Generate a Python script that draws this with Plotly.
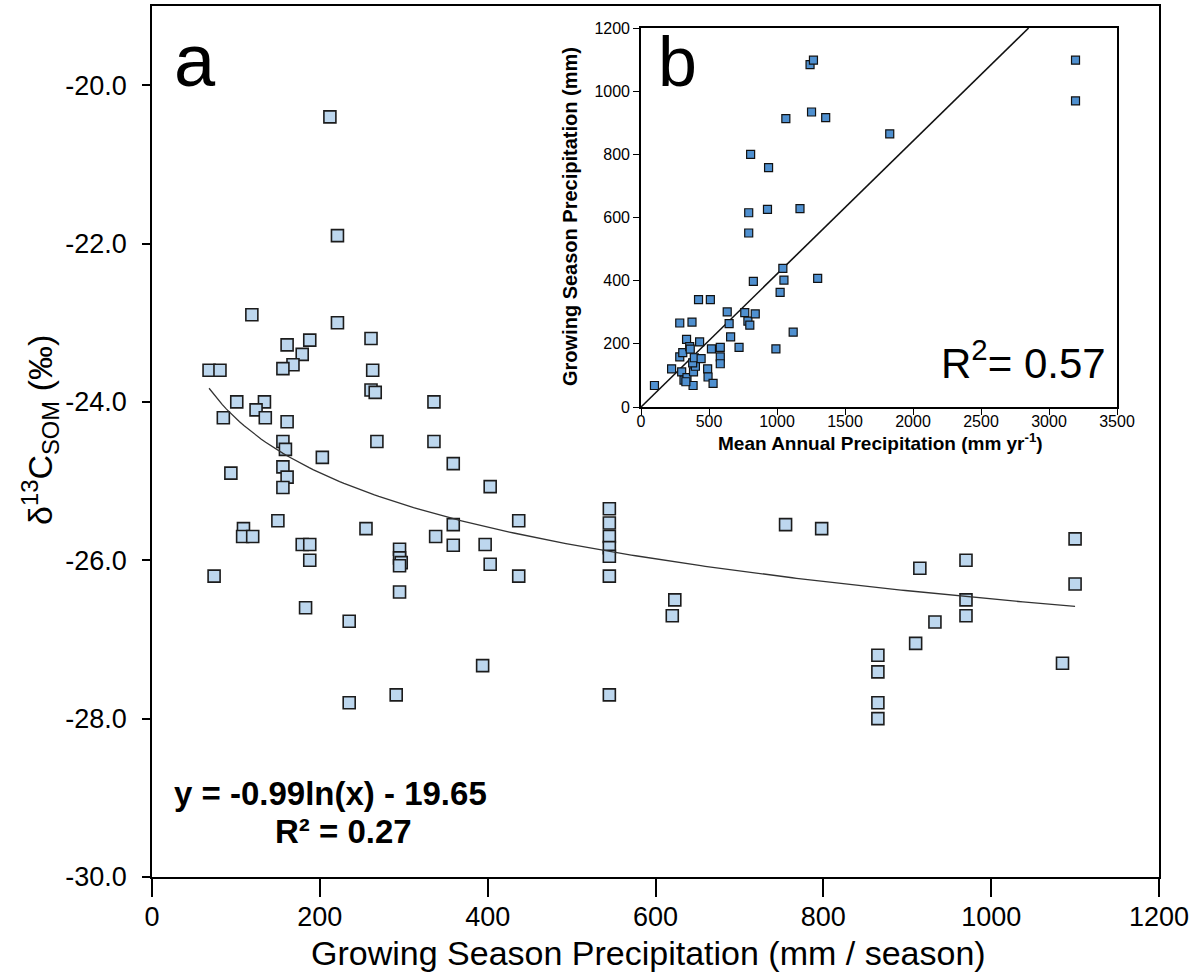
import numpy as np
import plotly.graph_objects as go

# ---- Panel a: growing season precipitation vs soil organic matter d13C ----
gsp_a = [212, 221, 119, 221, 161, 188, 179, 168, 156, 261, 263, 68, 81, 261, 266,
         336, 101, 134, 124, 85, 135, 161, 156, 159, 268, 336, 203, 156, 161, 156,
         94, 150, 109, 108, 120, 255, 338, 179, 188, 188, 74, 295, 295, 297, 295,
         295, 183, 235, 235, 291, 359, 403, 437, 359, 359, 397, 403, 437, 394,
         545, 545, 545, 545, 545, 545, 545, 623, 620, 755, 798,
         865, 865, 865, 865, 910, 915, 933, 970, 970, 970, 1085, 1100, 1100]
d13c_som = [-20.40, -21.90, -22.90, -23.00, -23.28, -23.22, -23.40, -23.53, -23.58, -23.20,
            -23.60, -23.60, -23.60, -23.85, -23.88, -24.00, -24.00, -24.00, -24.10, -24.20,
            -24.20, -24.25, -24.50, -24.60, -24.50, -24.50, -24.70, -24.82, -24.95, -25.08,
            -24.90, -25.50, -25.60, -25.70, -25.70, -25.60, -25.70, -25.80, -25.80, -26.00,
            -26.20, -25.86, -25.97, -26.03, -26.07, -26.40, -26.60, -26.77, -27.80, -27.70,
            -24.78, -25.07, -25.50, -25.55, -25.81, -25.80, -26.05, -26.20, -27.33,
            -25.35, -25.53, -25.70, -25.84, -25.95, -26.20, -27.70, -26.50, -26.70,
            -25.55, -25.60, -27.20, -27.41, -27.80, -28.00, -27.05, -26.10, -26.78,
            -26.00, -26.50, -26.70, -27.30, -25.73, -26.30]

x_ticks_a = [0, 200, 400, 600, 800, 1000, 1200]
y_ticks_a = [-30, -28, -26, -24, -22, -20]
y_tick_labels_a = ["-30.0", "-28.0", "-26.0", "-24.0", "-22.0", "-20.0"]

# logarithmic fit reported on the panel
fit_slope = -0.99
fit_intercept = -19.65
fit_r2 = 0.27

# ---- Panel b: mean annual precipitation vs growing season precipitation ----
map_b = [99, 225, 285, 375, 285, 307, 335, 358, 431, 423, 510, 299, 316, 338, 383,
         386, 400, 380, 392, 442, 490, 493, 530, 518, 583, 583, 583, 634, 648, 659,
         721, 763, 786, 800, 840, 826, 792, 792, 806, 930, 938, 992, 1023, 1043, 1051,
         1065, 1119, 1169, 1243, 1268, 1254, 1299, 1358, 1829, 3195, 3195, 362, 330]
gsp_b = [68, 121, 266, 269, 159, 172, 214, 191, 206, 340, 340, 111, 85, 93, 68,
         111, 129, 140, 156, 153, 121, 95, 75, 184, 189, 159, 137, 301, 264, 222,
         189, 299, 272, 259, 295, 398, 615, 551, 800, 626, 758, 184, 363, 439, 402,
         913, 237, 628, 1084, 1098, 934, 407, 916, 865, 1098, 969, 183, 80]

x_ticks_b = [0, 500, 1000, 1500, 2000, 2500, 3000, 3500]
y_ticks_b = [0, 200, 400, 600, 800, 1000, 1200]

line_slope_b = 0.421
r2_b = 0.57

FONT = "Liberation Sans, Arial, sans-serif"

fig = go.Figure()

fig.add_trace(go.Scatter(
    x=gsp_a, y=d13c_som, mode="markers", xaxis="x", yaxis="y",
    marker=dict(symbol="square", size=12, color="#bdd7ee",
                line=dict(color="#1c1c1c", width=1.6)),
    showlegend=False))

xf = np.linspace(min(gsp_a), max(gsp_a), 200)
fig.add_trace(go.Scatter(
    x=xf, y=fit_slope * np.log(xf) + fit_intercept, mode="lines",
    xaxis="x", yaxis="y", line=dict(color="#333333", width=1.3),
    showlegend=False))

xl = np.array([0, y_ticks_b[-1] / line_slope_b])
fig.add_trace(go.Scatter(
    x=xl, y=line_slope_b * xl, mode="lines", xaxis="x2", yaxis="y2",
    line=dict(color="#111111", width=1.6), showlegend=False))

fig.add_trace(go.Scatter(
    x=map_b, y=gsp_b, mode="markers", xaxis="x2", yaxis="y2",
    marker=dict(symbol="square", size=8, color="#4f90d0",
                line=dict(color="#111111", width=1.2)),
    showlegend=False))

W, H = 1203, 972


def px(x):
    return x / W


def py(y):
    return 1 - y / H


axis_common = dict(showgrid=False, zeroline=False, showline=True, linecolor="black",
                   mirror=True, ticks="outside", tickcolor="black", automargin=False)

fig.update_layout(
    width=W, height=H, autosize=False,
    margin=dict(l=0, r=0, t=0, b=0, pad=0),
    paper_bgcolor="white", plot_bgcolor="white",
    font=dict(family=FONT, color="black"),
    xaxis=dict(**axis_common, domain=[px(152), px(1159)], range=[0, 1200],
               tickvals=x_ticks_a, ticklen=18, tickwidth=1.5,
               linewidth=1.8, tickfont=dict(size=27), ticklabelstandoff=-3, anchor="y"),
    yaxis=dict(**axis_common, domain=[py(877), py(6)], range=[-30, -19],
               tickvals=y_ticks_a, ticktext=y_tick_labels_a, ticklen=8,
               tickwidth=1.5, linewidth=1.8, tickfont=dict(size=27),
               ticklabelstandoff=10, anchor="x"),
    xaxis2=dict(**axis_common, domain=[px(641), px(1117)], range=[0, 3500],
                tickvals=x_ticks_b, ticklen=6, tickwidth=1.3,
                linewidth=1.6, tickfont=dict(size=16), ticklabelstandoff=-7,
                anchor="y2"),
    yaxis2=dict(**axis_common, domain=[py(407), py(28)], range=[0, 1200],
                tickvals=y_ticks_b, ticklen=6, tickwidth=1.3,
                linewidth=1.6, tickfont=dict(size=16), anchor="x2"),
)

ann = [
    dict(text="Growing Season Precipitation (mm / season)", x=px(648), y=py(953),
         font=dict(size=34)),
    dict(text="δ<sup>13</sup>C<sub>SOM</sub> (‰)", x=px(40), y=py(430), textangle=-90,
         font=dict(size=34)),
    dict(text="a", x=px(195), y=py(60), font=dict(size=74)),
    dict(text="b", x=px(677), y=py(62), font=dict(size=70)),
    dict(text="<b>y = %.2fln(x) - %.2f</b>" % (fit_slope, -fit_intercept),
         x=px(330), y=py(793), font=dict(size=33)),
    dict(text="<b>R² = %.2f</b>" % fit_r2, x=px(343), y=py(831), font=dict(size=33)),
    dict(text="R<sup>2</sup>= %.2f" % r2_b, x=px(1023), y=py(360), font=dict(size=42)),
    dict(text="<b>Growing Season Precipitation (mm)</b>", x=px(570), y=py(217),
         textangle=-90, font=dict(size=20)),
    dict(text="<b>Mean Annual Precipitation (mm yr<sup>-1</sup>)</b>", x=px(880), y=py(442),
         font=dict(size=19)),
]
for a in ann:
    a.update(xref="paper", yref="paper", showarrow=False, xanchor="center", yanchor="middle")
fig.update_layout(annotations=ann)

fig.write_html("out.html")
